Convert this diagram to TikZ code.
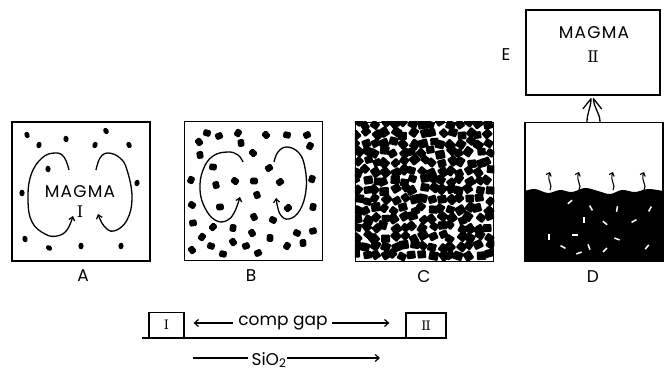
\documentclass[tikz,border=0pt]{standalone}
\usepackage{fontspec}
\setmainfont{Poppins}
\newfontfamily\numfont{DejaVu Serif}
\usetikzlibrary{arrows.meta,positioning}
\begin{document}
\begin{tikzpicture}[x=1pt, y=-1pt, line width=1.2pt,
  >={Straight Barb[length=4pt,width=7pt]},
  panel/.style={draw, line width=1.5pt, inner sep=0pt, minimum width=138pt, minimum height=139pt},
  tag/.style={font=\fontsize{17}{17}\selectfont, inner sep=0pt},
  magma/.style={font=\fontsize{17}{17}\selectfont\addfontfeature{LetterSpace=7}, inner sep=0pt},
  numeral/.style={font=\numfont\fontsize{16}{16}\selectfont, inner sep=0pt},
  swirl/.style={line width=1.3pt, -{Straight Barb[length=3.5pt,width=6pt]}},
  numbox/.style={draw, line width=1.2pt, minimum height=25pt, inner sep=0pt,
    font=\numfont\fontsize{13}{13}\selectfont}]
  \useasboundingbox (0,0) rectangle (666,371);

  % the four stages and the second magma
  \node[panel] (boxA) at (81,191.5) {};
  \node[panel] (boxB) at (253.5,191) {};
  \node[panel] (boxC) at (424.5,192) {};
  \node[panel] (boxD) at (594,192) {};
  \node[panel, minimum width=134pt, minimum height=85pt] (boxE) at (593,52.5) {};

  \node[tag] (labA) at (83,276) {A};
  \node[tag] (labB) at (251,276) {B};
  \node[tag] (labC) at (424,277) {C};
  \node[tag] (labD) at (593,277) {D};
  \node[tag] (labE) at (506,55) {E};

  % A: few crystals, convecting melt
  \foreach \x/\y/\a in {27/135/20, 39/145/-15, 66/139/10, 106/131/30, 95/145/-20, 129/145/25,
      48/169/5, 137/183/-10, 22/193/0, 25/239/15, 49/248/60, 81/246/0, 121/246/-5}
    \fill[rotate around={\a:(\x,\y)}] (\x,\y) ellipse (2.6 and 3.3);
  \node[magma] (magA) at (80,192) {MAGMA};
  \node[numeral] (numA) at (80,212) {I};
  \draw[swirl] plot[smooth, tension=0.7] coordinates {(69,170) (64,157) (55,153) (42,158) (31,175)
      (28,200) (32,222) (45,234) (57,236) (67,230) (73,216)};
  \draw[swirl] plot[smooth, tension=0.7] coordinates {(96,170) (100,158) (108,153) (120,158) (127,170)
      (132,197) (127,220) (114,231) (104,226) (98,214)};

  % B: more crystals
  \foreach \x/\y [count=\i] in {199/142, 207/133, 219/136, 238/133, 241/143, 266/135, 287/135, 307/135,
      310/146, 200/155, 253/153, 213/167, 269/168, 191/180, 216/185, 235/181, 254/181, 280/182,
      312/179, 257/195, 192/205, 220/207, 288/208, 313/207, 254/217, 273/220, 193/223, 213/227,
      233/228, 252/233, 297/233, 313/231, 202/237, 270/238, 233/242, 211/246, 246/246, 287/246,
      303/243, 192/250, 223/254, 258/253}
    \fill[rounded corners=1.5pt, rotate around={\i*37:(\x,\y)}] (\x-3.3,\y-3.8) rectangle (\x+3.3,\y+3.8);
  \draw[swirl] plot[smooth, tension=0.7] coordinates {(243,162) (238,155) (228,152) (213,156) (203,170)
      (200,190) (205,208) (215,220) (226,221) (234,213) (240,197)};
  \draw[swirl] plot[smooth, tension=0.7] coordinates {(274,162) (278,152) (287,147) (299,153) (305,168)
      (306,190) (300,210) (289,219) (280,214) (276,198)};

  % C: crystal mush
  \begin{scope}
    \clip (boxC.north west) rectangle (boxC.south east);
    \pgfmathsetseed{31}
    \foreach \i in {0,...,14}
      \foreach \j in {0,...,14}{
        \pgfmathsetmacro\gx{357+\i*9.4+2.6*rand}
        \pgfmathsetmacro\gy{124+\j*9.4+2.6*rand}
        \pgfmathsetmacro\ga{60*rand}
        \pgfmathsetmacro\gs{3.6+0.9*rnd}
        \fill[rounded corners=1pt, rotate around={\ga:(\gx,\gy)}] (\gx-\gs-0.4,\gy-\gs) rectangle (\gx+\gs+0.4,\gy+\gs);
      }
  \end{scope}
  \node[panel] at (boxC) {};

  % D: solidified cake, residual liquid escaping upward
  \fill plot[smooth, tension=0.6] coordinates {(525,191) (535,189) (548,193) (560,190) (572,192)
      (585,188) (598,191) (610,194) (622,190) (635,192) (648,189) (663,191)}
      -- (663,261) -- (525,261) -- cycle;
  \foreach \x/\y/\a in {570/202/40, 591/208/-60, 617/209/80, 584/220/90, 605/223/-40, 634/221/30,
      650/209/60, 549/237/90, 575/235/0, 563/247/-30, 579/253/20, 589/247/-70, 605/250/45,
      647/247/50, 617/239/-20}
    \draw[white, line width=1.5pt, rotate around={\a:(\x,\y)}] (\x-2.8,\y) -- (\x+2.8,\y);
  \node[panel] at (boxD) {};
  \foreach \x in {550,579,613,644}
    \draw[line width=1.1pt, -{Straight Barb[length=3pt,width=5.5pt]}]
      (\x,190) .. controls (\x+3.5,185) and (\x-3.5,181) .. (\x,172);

  \node[magma] (magE) at (594,33) {MAGMA};
  \node[numeral] (numE) at (593,57) {I\kern-1.3pt I};
  % liquid rising into E
  \coordinate (tip) at ([yshift=-3pt]boxE.south);
  \draw[line width=1.3pt, line cap=round, line join=round]
    ([xshift=-7pt]boxD.north) .. controls ++(0,-9) and ++(0,9) .. ([xshift=-2pt]tip) -- ++(-8,10);
  \draw[line width=1.3pt, line cap=round, line join=round]
    ([xshift=6pt]boxD.north) .. controls ++(0,-9) and ++(0,9) .. ([xshift=0.5pt]tip) -- ++(8,10);

  % composition gap and silica axis
  \node[numbox, minimum width=35pt] (ones) at (166.5,325) {I};
  \node[numbox, minimum width=40pt] (twos) at (426,325.5) {I\kern-1pt I};
  \draw[line width=1.2pt] (142,338) -- (447,338);
  \node[tag] (gap) at (283,323) {comp gap};
  \draw[->] ([xshift=-5pt]gap.west) -- ([xshift=9pt]gap.west -| ones.east);
  \draw[->] ([xshift=4pt]gap.east) -- ([xshift=-16pt]gap.east -| twos.west);
  \node[tag] (sio) at (269,360) {SiO\textsubscript{2}};
  \coordinate (silo) at (193,358);
  \coordinate (sihi) at (380,358);
  \draw (silo) -- ([xshift=-3pt]silo -| sio.west);
  \draw[->] (sio.east |- sihi) -- (sihi);
\end{tikzpicture}
\end{document}
